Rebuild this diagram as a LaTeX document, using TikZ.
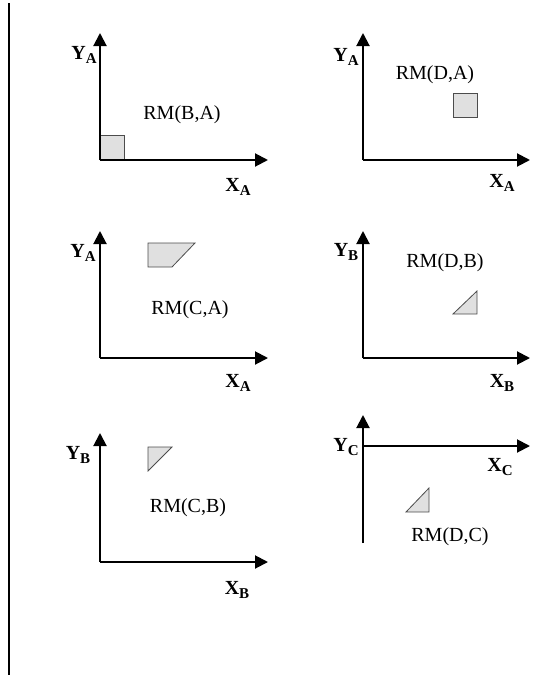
\documentclass[tikz,border=0pt]{standalone}
\usepackage{fontspec}
\setmainfont{Liberation Serif}
\usetikzlibrary{arrows.meta}
\newcommand\axislab[2]{#1\raisebox{-0.5ex}{\fontsize{15}{15}\selectfont #2}}
\begin{document}
\begin{tikzpicture}[x=1pt,y=-1pt,
  axis/.style={line width=2pt, -{Triangle[length=13pt,width=13pt]}},
  plainaxis/.style={line width=2pt},
  frameline/.style={line width=2pt},
  shapefill/.style={fill=black!12, draw=black!70, line width=0.8pt},
  rmlabel/.style={font=\fontsize{20}{24}\selectfont, inner sep=0pt},
  axlabel/.style={font=\fontsize{20}{24}\selectfont\bfseries, inner sep=0pt},
]
\useasboundingbox (0,0) rectangle (536,675);
% left frame line
\coordinate (Ltop) at (9,3);
\coordinate (Lbot) at (9,675);
\draw[frameline] (Ltop) -- (Lbot);

% Panel 1: RM(B,A)
\coordinate (O1) at (100,160);
\coordinate (Y1) at (100,33);
\coordinate (X1) at (268,160);
\draw[shapefill] (100,135) rectangle (124,160);
\draw[axis] (O1) -- (Y1);
\draw[axis] (O1) -- (X1);
\node[rmlabel] (rm1) at (182,115) {RM(B,A)};
\node[axlabel] (ya1) at (84,55) {\axislab{Y}{A}};
\node[axlabel] (xa1) at (238,187) {\axislab{X}{A}};

% Panel 2: RM(D,A)
\coordinate (O2) at (363,160);
\coordinate (Y2) at (363,33);
\coordinate (X2) at (530,160);
\draw[shapefill] (453,93) rectangle (477,117);
\draw[axis] (O2) -- (Y2);
\draw[axis] (O2) -- (X2);
\node[rmlabel] (rm2) at (435,75) {RM(D,A)};
\node[axlabel] (ya2) at (346,57) {\axislab{Y}{A}};
\node[axlabel] (xa2) at (502,183) {\axislab{X}{A}};

% Panel 3: RM(C,A)
\coordinate (O3) at (100,358);
\coordinate (Y3) at (100,231);
\coordinate (X3) at (268,358);
\draw[shapefill] (148,243) -- (195,243) -- (172,267) -- (148,267) -- cycle;
\draw[axis] (O3) -- (Y3);
\draw[axis] (O3) -- (X3);
\node[rmlabel] (rm3) at (190,310) {RM(C,A)};
\node[axlabel] (ya3) at (83,253) {\axislab{Y}{A}};
\node[axlabel] (xa3) at (238,383) {\axislab{X}{A}};

% Panel 4: RM(D,B)
\coordinate (O4) at (363,358);
\coordinate (Y4) at (363,231);
\coordinate (X4) at (530,358);
\draw[shapefill] (453,314) -- (477,291) -- (477,314) -- cycle;
\draw[axis] (O4) -- (Y4);
\draw[axis] (O4) -- (X4);
\node[rmlabel] (rm4) at (445,263) {RM(D,B)};
\node[axlabel] (yb4) at (346,252) {\axislab{Y}{B}};
\node[axlabel] (xb4) at (502,383) {\axislab{X}{B}};

% Panel 5: RM(C,B)
\coordinate (O5) at (100,562);
\coordinate (Y5) at (100,433);
\coordinate (X5) at (268,562);
\draw[shapefill] (148,447) -- (172,447) -- (148,471) -- cycle;
\draw[axis] (O5) -- (Y5);
\draw[axis] (O5) -- (X5);
\node[rmlabel] (rm5) at (188,508) {RM(C,B)};
\node[axlabel] (yb5) at (78,455) {\axislab{Y}{B}};
\node[axlabel] (xb5) at (237,590) {\axislab{X}{B}};

% Panel 6: RM(D,C)
\coordinate (B6) at (363,543);
\coordinate (Y6) at (363,415);
\coordinate (O6) at (363,446);
\coordinate (X6) at (530,446);
\draw[shapefill] (406,512) -- (429,488) -- (429,512) -- cycle;
\draw[axis] (B6) -- (Y6);
\draw[axis] (O6) -- (X6);
\node[rmlabel] (rm6) at (450,537) {RM(D,C)};
\node[axlabel] (yc6) at (346,447) {\axislab{Y}{C}};
\node[axlabel] (xc6) at (500,467) {\axislab{X}{C}};
\end{tikzpicture}
\end{document}
